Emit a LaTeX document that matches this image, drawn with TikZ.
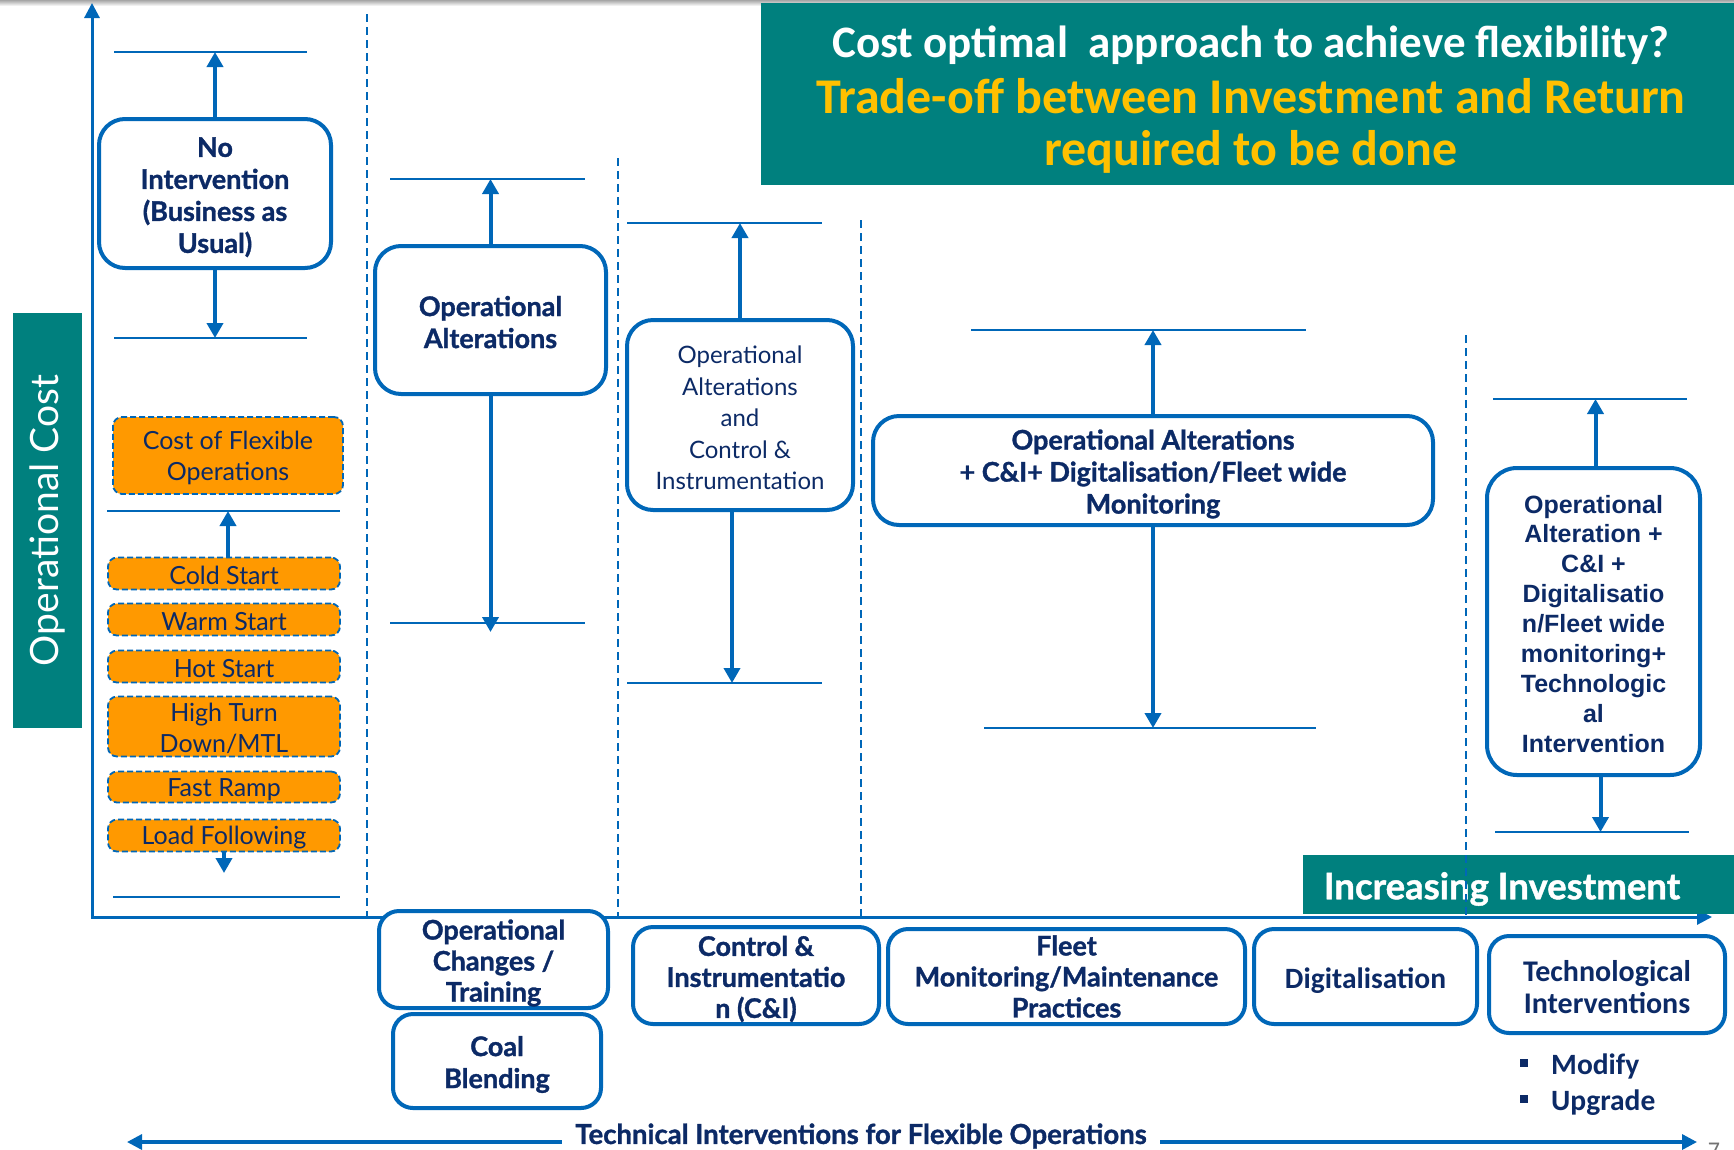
\documentclass[tikz,border=0pt]{standalone}
\usepackage{fontspec}
\usetikzlibrary{arrows.meta}
\newfontfamily\gill{Lato}[BoldFeatures={FakeBold=1.2}]
\newfontfamily\arialf{Liberation Sans}
\newfontfamily\calib{Carlito}
\newcommand{\tup}{\rule{0pt}{1em}}
\newcommand{\tupo}{\rule{0pt}{0.9em}}
\definecolor{lblue}{RGB}{0,103,184}
\definecolor{navy}{RGB}{12,42,102}
\definecolor{teal2}{RGB}{0,128,126}
\definecolor{orng}{RGB}{255,153,0}
\definecolor{yel}{RGB}{255,192,0}
\begin{document}
\begin{tikzpicture}[x=1pt,y=-1pt,
  bx/.style={draw=lblue, line width=4pt, rounded corners=26pt, fill=white, align=center, text=navy, inner sep=0pt},
  sbx/.style={bx, rounded corners=20pt},
  bfont/.style={font=\gill\bfseries\fontsize{27}{32}\selectfont},
  rfont/.style={font=\gill\fontsize{24}{31.5}\selectfont},
  ob/.style={draw=lblue, line width=1.8pt, dash pattern=on 6pt off 3pt, fill=orng, rounded corners=9pt, align=center, text=navy, inner sep=0pt, font=\gill\fontsize{25}{31}\selectfont, minimum width=232},
  hl/.style={draw=lblue, line width=2pt},
  arr/.style={draw=lblue, line width=4pt, -{Triangle[width=16pt,length=15pt]}},
  axis/.style={draw=lblue, line width=3pt, -{Triangle[width=15pt,length=15pt]}},
  dl/.style={draw=lblue, line width=2pt, dash pattern=on 8pt off 5pt},
  teal box/.style={fill=teal2, draw=none, inner sep=0pt}
]
\useasboundingbox (0,0) rectangle (1734,1149);
\shade[top color=black!35, bottom color=white] (0,0) rectangle (1734,6);

% title box
\node[teal box, minimum width=973, minimum height=182, anchor=north west] (title) at (761,3) {};
\node[font=\calib\bfseries\fontsize{45}{54}\selectfont, text=white] (ttl1) at (1251,45) {Cost optimal\ \ approach to achieve flexibility?};
\node[font=\calib\bfseries\fontsize{50}{60}\selectfont, text=yel] (ttl2) at (1251,96) {Trade-off between Investment and Return};
\node[font=\calib\bfseries\fontsize{50}{60}\selectfont, text=yel] (ttl3) at (1251,152) {required to be done};

% operational cost label
\node[teal box, minimum width=69, minimum height=415] (ocbox) at (47.5,520.5) {};
\node[rotate=90, text=white, font=\gill\fontsize{39}{46}\selectfont] (oc) at (ocbox.center) {Operational Cost};

% axes
\coordinate (org) at (92,916);
\coordinate (ytop) at (92,3);
\coordinate (xend) at (1712,917);
\draw[axis] (org) -- (ytop);
\draw[axis] (org) -- (org |- xend) -- (xend);

% dashed separators
\coordinate (d1t) at (367,14);  \coordinate (d1b) at (367,916);
\coordinate (d2t) at (618,158); \coordinate (d2b) at (618,916);
\coordinate (d3t) at (861,220); \coordinate (d3b) at (861,916);
\coordinate (d4t) at (1466,335); \coordinate (d4b) at (1466,917);
\draw[dl] (d1t) -- (d1b);
\draw[dl] (d2t) -- (d2b);
\draw[dl] (d3t) -- (d3b);

% ---------- column 1
\coordinate (t1a) at (114,52);  \coordinate (t1b) at (307,52);
\coordinate (b1a) at (114,338); \coordinate (b1b) at (307,338);
\draw[hl] (t1a) -- (t1b);
\draw[hl] (b1a) -- (b1b);
\node[bx, bfont, minimum width=232, minimum height=149] (noint) at (215,193.5) {\tup No\\Intervention\\(Business as\\Usual)};
\draw[arr] (noint.north) -- (noint.north |- t1a);
\draw[arr] (noint.south) -- (noint.south |- b1a);

\node[ob, minimum width=230, minimum height=77] (cfo) at (228,455.5) {\tupo Cost of Flexible\\Operations};
\coordinate (m1a) at (107,511); \coordinate (m1b) at (340,511);
\draw[hl] (m1a) -- (m1b);
\node[ob, minimum height=32] (cold) at (224,573.5) {\tupo Cold Start};
\node[ob, minimum height=32] (warm) at (224,619.5) {\tupo Warm Start};
\node[ob, minimum height=32] (hot) at (224,666.5) {\tupo Hot Start};
\node[ob, minimum height=60] (htd) at (224,726.5) {\tupo High Turn\\Down/MTL};
\node[ob, minimum height=31] (ramp) at (224,787) {\tupo Fast Ramp};
\node[ob, minimum height=32] (load) at (224,835.5) {\tupo Load Following};
\draw[arr] ([xshift=4pt]cold.north) -- ([xshift=4pt]cold.north |- m1a);
\coordinate (ldend) at (224,873);
\draw[arr] (load.south) -- (ldend);
\coordinate (b1c) at (113,897); \coordinate (b1d) at (340,897);
\draw[hl] (b1c) -- (b1d);

% ---------- column 2
\coordinate (t2a) at (390,179); \coordinate (t2b) at (585,179);
\coordinate (b2a) at (390,623); \coordinate (b2b) at (585,623);
\draw[hl] (t2a) -- (t2b);
\draw[hl] (b2a) -- (b2b);
\node[bx, bfont, minimum width=231, minimum height=148] (opalt) at (490.5,320) {\tupo Operational\\Alterations};
\coordinate (b2tip) at (490.5,632);
\draw[arr] (opalt.north) -- (opalt.north |- t2a);
\draw[arr] (opalt.south) -- (b2tip);

% ---------- column 3
\coordinate (t3a) at (627,223); \coordinate (t3b) at (822,223);
\coordinate (b3a) at (627,683); \coordinate (b3b) at (822,683);
\draw[hl] (t3a) -- (t3b);
\draw[hl] (b3a) -- (b3b);
\node[bx, rfont, minimum width=226, minimum height=190] (opcon) at (740,415) {\tup Operational\\Alterations\\and\\Control \&\\Instrumentation};
\draw[arr] (opcon.north) -- (opcon.north |- t3a);
\draw[arr] ([xshift=-8pt]opcon.south) -- ([xshift=-8pt]opcon.south |- b3a);

% ---------- column 4
\coordinate (t4a) at (971,330); \coordinate (t4b) at (1306,330);
\coordinate (b4a) at (984,728); \coordinate (b4b) at (1316,728);
\draw[hl] (t4a) -- (t4b);
\draw[hl] (b4a) -- (b4b);
\node[bx, bfont, minimum width=560, minimum height=109] (opdig) at (1153,470.5) {\tup Operational Alterations\\+ C\&I+ Digitalisation/Fleet wide\\Monitoring};
\draw[arr] (opdig.north) -- (opdig.north |- t4a);
\draw[arr] (opdig.south) -- (opdig.south |- b4a);

% ---------- column 5
\coordinate (t5a) at (1493,399); \coordinate (t5b) at (1687,399);
\coordinate (b5a) at (1495,832); \coordinate (b5b) at (1689,832);
\draw[hl] (t5a) -- (t5b);
\draw[hl] (b5a) -- (b5b);
\node[bx, rounded corners=30pt, font=\arialf\bfseries\fontsize{25}{29.9}\selectfont, minimum width=213, minimum height=307] (optech) at (1593.5,621.5) {\tupo Operational\\Alteration +\\C\&I +\\Digitalisatio\\n/Fleet wide\\monitoring+\\Technologic\\al\\Intervention};
\draw[arr] ([xshift=2pt]optech.north) -- ([xshift=2pt]optech.north |- t5a);
\draw[arr] ([xshift=7pt]optech.south) -- ([xshift=7pt]optech.south |- b5a);

% increasing investment
\node[teal box, minimum width=431, minimum height=59, anchor=north west] (incbox) at (1303,855) {};
\node[text=white, font=\gill\bfseries\fontsize{36.5}{44}\selectfont] (inc) at (1502,889) {Increasing Investment};
\draw[dl] (d4t) -- (d4b);

% ---------- bottom boxes
\node[sbx, font=\gill\bfseries\fontsize{27}{31}\selectfont, minimum width=229, minimum height=97] (opch) at (493.5,959.5) {\tup Operational\\Changes /\\Training};
\node[sbx, bfont, minimum width=208, minimum height=94] (coal) at (497,1061) {\tup Coal\\Blending};
\node[sbx, font=\gill\bfseries\fontsize{27}{31}\selectfont, minimum width=246, minimum height=97] (ci) at (756,975.5) {\tup Control \&\\Instrumentatio\\n (C\&I)};
\node[sbx, font=\gill\bfseries\fontsize{27}{31}\selectfont, minimum width=357, minimum height=95] (fleet) at (1066.5,976.5) {Fleet\\Monitoring/Maintenance\\Practices};
\node[sbx, font=\calib\bfseries\fontsize{29.5}{32}\selectfont, minimum width=223, minimum height=95] (digi) at (1365.5,976.5) {\tup Digitalisation};
\node[sbx, font=\calib\bfseries\fontsize{30}{32}\selectfont, minimum width=236, minimum height=97] (tech) at (1607,984.5) {\tupo Technological\\Interventions};

% bullets
\node[fill=navy, minimum size=8, inner sep=0pt] (bul1) at (1524,1063) {};
\node[fill=navy, minimum size=8, inner sep=0pt] (bul2) at (1524,1099) {};
\node[anchor=west, text=navy, font=\calib\bfseries\fontsize{29.5}{32}\selectfont, inner sep=0pt] (mod) at (1551,1066) {Modify};
\node[anchor=west, text=navy, font=\calib\bfseries\fontsize{29.5}{32}\selectfont, inner sep=0pt] (upg) at (1551,1103) {Upgrade};

% bottom double arrow
\coordinate (ba) at (127,1142);
\coordinate (bb) at (1697,1142);
\draw[draw=lblue, line width=3.3pt, {Triangle[width=15pt,length=15pt]}-{Triangle[width=15pt,length=15pt]}] (ba) -- (bb);
\node[fill=white, text=navy, font=\gill\bfseries\fontsize{27.5}{32}\selectfont, inner xsep=13pt, inner ysep=2pt] (tif) at (861,1136) {Technical Interventions for Flexible Operations};

% page number
\node[anchor=north, text=black!55, font=\calib\fontsize{24}{28}\selectfont, inner sep=0pt] (pg) at (1714,1143) {7};
\end{tikzpicture}
\end{document}
